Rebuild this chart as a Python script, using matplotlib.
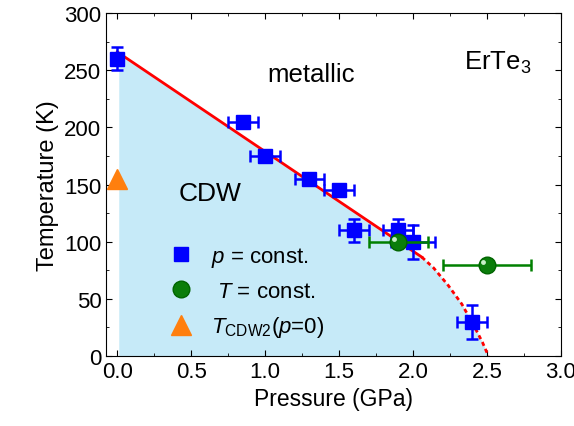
import numpy as np
import matplotlib
matplotlib.use("Agg")
import matplotlib.pyplot as plt
from matplotlib.lines import Line2D
from matplotlib.ticker import MultipleLocator

plt.rcParams['font.family'] = ['Liberation Sans', 'DejaVu Sans']
plt.rcParams['mathtext.fontset'] = 'custom'
plt.rcParams['mathtext.rm'] = 'Liberation Sans'
plt.rcParams['mathtext.it'] = 'Liberation Sans:italic'

# p = const. (squares)
p_sq = [0.0, 0.85, 1.0, 1.3, 1.5, 1.6, 1.9, 2.0, 2.4]
T_sq = [260, 205, 175, 155, 145, 110, 110, 100, 30]
p_sq_err = [0.0, 0.1, 0.1, 0.1, 0.1, 0.1, 0.1, 0.15, 0.1]
T_sq_err = [10, 0, 0, 0, 0, 10, 10, 15, 15]

# T = const. (circles)
p_ci = [1.9, 2.5]
T_ci = [100, 80]
p_ci_err = [0.2, 0.3]

# T_CDW2 at p=0
p_tri = [0.0]
T_tri = [155]

# linear fit (solid) and extrapolated boundary (dashed)
p_line = [0.0, 2.06]
T_line = [266, 86.5]
p_dash = [2.06, 2.14, 2.24, 2.33, 2.41, 2.47, 2.51]
T_dash = [86.5, 77, 61.5, 45.5, 27, 12, 0]

fig, ax = plt.subplots(figsize=(5.74, 4.27), dpi=100)
fig.subplots_adjust(left=0.185, right=0.977, bottom=0.164, top=0.967)

# CDW region
p_fill = [0.01] + p_line[1:] + p_dash[1:]
T_fill = [265] + T_line[1:] + T_dash[1:]
ax.fill_between(p_fill, 0, T_fill, color='#c6eaf8', lw=0, zorder=0)

ax.plot(p_line, T_line, color='red', lw=2, zorder=2)
ax.plot(p_dash, T_dash, color='red', lw=2, ls=(0, (1.5, 1.2)), zorder=2)

ax.errorbar(p_sq, T_sq, xerr=p_sq_err, yerr=T_sq_err, fmt='s', color='blue',
            markersize=10.5, capsize=4, elinewidth=1.8, capthick=1.8, zorder=3)
ax.errorbar(p_ci, T_ci, xerr=p_ci_err, fmt='o', color='green', mfc='#0a7d0a',
            mec='#006400', markersize=12, capsize=4, elinewidth=1.8, capthick=1.8, zorder=4)
# highlight on the spheres
ax.plot(np.array(p_ci) - 0.025, np.array(T_ci) + 2.5, 'o', color='#c8efc8',
        markersize=3.5, mec='none', zorder=5)
ax.plot(p_tri, T_tri, '^', color='#ff7f0e', markersize=14, zorder=3, clip_on=False)

ax.set_xlim(-0.075, 3.0)
ax.set_ylim(0, 300)
ax.xaxis.set_major_locator(MultipleLocator(0.5))
ax.xaxis.set_minor_locator(MultipleLocator(0.25))
ax.yaxis.set_major_locator(MultipleLocator(50))
ax.yaxis.set_minor_locator(MultipleLocator(25))
ax.xaxis.set_major_formatter(matplotlib.ticker.FormatStrFormatter('%.1f'))
ax.tick_params(which='both', direction='in', top=True, right=True, labelsize=16)
ax.tick_params(which='major', length=4)
ax.tick_params(which='minor', length=2.5)
ax.set_xlabel("Pressure (GPa)", fontsize=16.5)
ax.set_ylabel("Temperature (K)", fontsize=17)

ax.text(1.31, 247, "metallic", fontsize=18.5, ha='center', va='center')
ax.text(2.57, 257, "ErTe$_3$", fontsize=18.5, ha='center', va='center')
ax.text(0.63, 143, "CDW", fontsize=19, ha='center', va='center')

handles = [
    Line2D([], [], ls='none', marker='s', color='blue', markersize=10),
    Line2D([], [], ls='none', marker='o', color='#0a7d0a', mec='#006400', markersize=12),
    Line2D([], [], ls='none', marker='^', color='#ff7f0e', markersize=14),
]
labels = ["$p$ = const.", " $T$ = const.", "$T_{\\mathrm{CDW2}}$($p$=0)"]
ax.legend(handles, labels, frameon=False, fontsize=16, loc='lower left',
          bbox_to_anchor=(0.085, -0.01), handletextpad=0.6, labelspacing=0.55,
          handlelength=1.5)

plt.savefig("out.png", dpi=100)
